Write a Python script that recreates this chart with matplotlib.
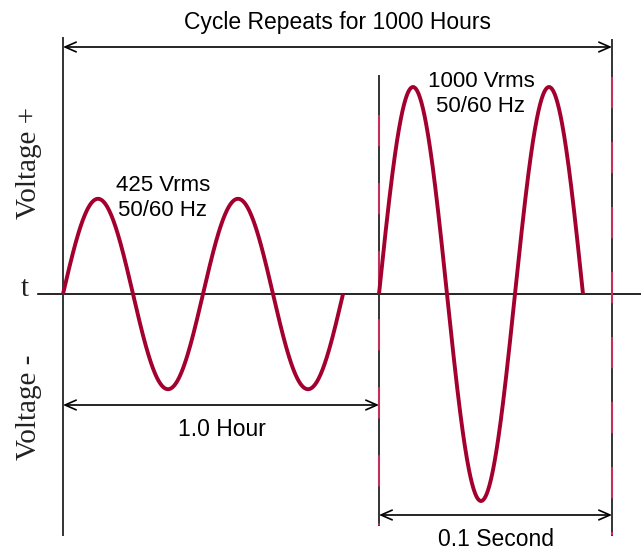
import numpy as np
import matplotlib.pyplot as plt

plt.rcParams['lines.scale_dashes'] = False

# waveform segments: label, relative peak voltage, cycles drawn
seg_labels = ['425 Vrms\n50/60 Hz', '1000 Vrms\n50/60 Hz']
seg_amp = [0.46, 1.0]
seg_cycles = [2.0, 1.5]
seg_start = [63, 379]
seg_period = [140, 136]

# dimension arrows: label, from x, to x
span_labels = ['Cycle Repeats for 1000 Hours', '1.0 Hour', '0.1 Second']
span_from = [63, 63, 379]
span_to = [612, 379, 612]

RED = '#a3002f'
DASH_RED = '#c0305a'
GRAY = '#333333'

# pixel row -> voltage units (baseline at row 294, unit peak = 207 px)
def vy(py):
    return (294 - py) / 207.0

fig = plt.figure(figsize=(6.41, 5.5), dpi=100)
ax = fig.add_axes([0, 0, 1, 1])
ax.set_xlim(0, 641)
ax.set_ylim(vy(550), vy(0))
ax.axis('off')

# axis lines
ax.plot([38, 641], [0, 0], color='black', lw=1.2)
ax.plot([63, 63], [vy(38), vy(535)], color=GRAY, lw=1.4)
ax.plot([379, 379], [vy(76), vy(525)], color=GRAY, lw=1.4)
ax.plot([612, 612], [vy(40), vy(535)], color=GRAY, lw=1.4)
# red dashes over the boundary lines
ax.plot([379, 379], [vy(115), vy(525)], color=DASH_RED, lw=1.5,
        linestyle=(0, (22.5, 26.5)))
ax.plot([612, 612], [vy(77), vy(535)], color=DASH_RED, lw=1.5,
        linestyle=(0, (22.5, 24.3)))

# sine waves
for start, per, amp, cyc in zip(seg_start, seg_period, seg_amp, seg_cycles):
    t = np.linspace(0, cyc, 400)
    ax.plot(start + per * t, amp * np.sin(2 * np.pi * t), color=RED, lw=2.8,
            solid_capstyle='butt')

# wave labels
ax.text(163, vy(198), seg_labels[0], ha='center', va='center',
        fontsize=16, family='Liberation Sans', linespacing=1.3)
ax.text(481, vy(94), seg_labels[1], ha='center', va='center',
        fontsize=16, family='Liberation Sans', linespacing=1.3)

# dimension arrows
span_y = [47, 405, 515]
text_y = [22, 429, 540]
for lab, x0, x1, py, ty in zip(span_labels, span_from, span_to, span_y, text_y):
    ax.annotate('', xy=(x1, vy(py)), xytext=(x0, vy(py)),
                arrowprops=dict(arrowstyle='<->,head_length=0.8,head_width=0.35',
                                color='black', lw=1.2, shrinkA=0, shrinkB=0))
    ax.text((x0 + x1) / 2 if lab != '1.0 Hour' else 222, vy(ty), lab,
            ha='center', va='center', fontsize=16.5, family='Liberation Sans')

# axis labels
ax.text(29, vy(163), 'Voltage +', rotation=90, ha='center', va='center',
        fontsize=21, family='Liberation Serif', color='#222222')
ax.text(29, vy(407), 'Voltage -', rotation=90, ha='center', va='center',
        fontsize=21, family='Liberation Serif', color='#222222')
ax.text(25, vy(289), 't', ha='center', va='center',
        fontsize=21, family='Liberation Serif', color='#222222')

fig.savefig('out.png', dpi=100)
